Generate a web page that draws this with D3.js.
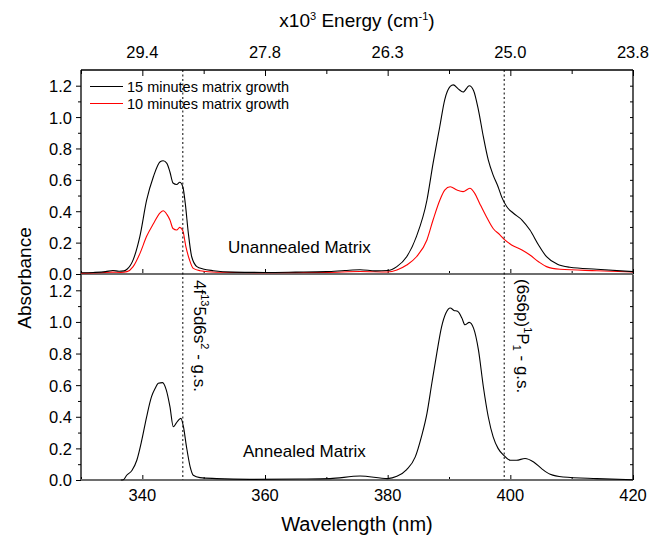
<!DOCTYPE html>
<html><head><meta charset="utf-8">
<script src="https://cdn.jsdelivr.net/npm/d3@7"></script>
<style>body{margin:0;background:#fff}svg{display:block;font-family:"Liberation Sans",Arial,sans-serif}</style>
</head><body><svg id="c" width="651" height="535"></svg>
<script>
// ---- data ----
const wl15 = [330,332,334,335.2,336.2,337,337.5,338.5,339.6,340.7,341.8,342.9,343.4,344,344.5,345,345.6,346.1,346.6,347,347.5,348.05,348.9,349.9,351.6,354.8,360,365,370,373,375.5,378,380,381.5,383.1,384.7,386.4,387.4,388.5,389.3,390.2,390.7,391.5,392.3,393.3,394,394.8,395.6,396.4,397.2,398,398.6,399.4,400.5,401.9,403.2,404.6,405.9,407.6,409.7,414.1,420];
const abs15 = [0.008,0.01,0.015,0.022,0.018,0.02,0.03,0.09,0.24,0.47,0.62,0.715,0.722,0.705,0.65,0.58,0.57,0.585,0.556,0.45,0.26,0.11,0.047,0.032,0.021,0.012,0.01,0.012,0.015,0.022,0.027,0.02,0.022,0.047,0.11,0.24,0.47,0.705,0.94,1.11,1.195,1.205,1.18,1.16,1.2,1.17,1.045,0.875,0.727,0.63,0.556,0.49,0.43,0.387,0.344,0.28,0.185,0.11,0.064,0.043,0.03,0.015];
const wl10 = [330,333,335,336.5,337.5,338.5,339.6,340.7,341.8,342.9,343.4,344,344.5,345,345.6,346.1,346.6,347.1,347.7,348.3,349.4,352.1,360,370,375.5,380,381.5,383.1,384.7,386.4,387.4,388.5,389.3,390.2,391.3,392.3,393.4,394.2,395,396.1,397.2,398.3,399.1,400.2,401.9,403.2,404.6,405.9,408.1,414.1,420];
const abs10 = [0.005,0.008,0.012,0.01,0.015,0.047,0.13,0.24,0.32,0.39,0.403,0.38,0.344,0.29,0.28,0.297,0.276,0.174,0.089,0.036,0.021,0.011,0.008,0.01,0.016,0.013,0.025,0.057,0.11,0.217,0.344,0.47,0.535,0.556,0.535,0.525,0.546,0.514,0.45,0.365,0.29,0.25,0.217,0.185,0.153,0.121,0.078,0.047,0.03,0.021,0.013];
const wlAnn = [336.5,336.9,337.45,338.3,339.1,339.9,340.7,341.5,342.1,342.6,343.3,343.9,344.5,345.05,345.5,345.9,346.3,346.7,347.2,347.8,348.3,349.4,352.1,357.5,365.6,370.6,375.5,380,381.5,383.1,384.5,385.5,386.4,387.2,388,388.8,389.5,390.2,390.8,391.4,392.1,392.6,393.3,394,394.8,395.6,396.4,397.2,398,398.9,400,401,402.4,403.8,405.1,406.5,408.6,414.1,420];
const absAnn = [0,0.002,0.03,0.06,0.125,0.25,0.4,0.527,0.58,0.612,0.616,0.57,0.464,0.337,0.358,0.379,0.39,0.337,0.21,0.083,0.03,0.015,0.009,0.004,0.006,0.009,0.025,0.009,0.023,0.066,0.146,0.273,0.42,0.612,0.8,0.97,1.056,1.088,1.073,1.067,1.025,0.982,0.997,0.961,0.823,0.59,0.4,0.273,0.2,0.157,0.125,0.125,0.136,0.114,0.072,0.036,0.019,0.009,0.002];
const xTicks = [340,360,380,400,420];
const xMinor = [330,350,370,390,410];
const topTickLabels = ["29.4","27.8","26.3","25.0","23.8"];
const yTicks = [0,0.2,0.4,0.6,0.8,1.0,1.2];
const yMinor = [0.1,0.3,0.5,0.7,0.9,1.1,1.3];
const transitions = [346.6, 399.0];
const legendNames = ["15 minutes matrix growth","10 minutes matrix growth"];
const colors = ["#000000","#ff0000"];

// ---- layout ----
const svg = d3.select("#c");
const L=81, R=633, T=70, MID=274, B=480;
const x = d3.scaleLinear().domain([330,420]).range([L,R]);
const yTop = d3.scaleLinear().domain([0,1.3]).range([MID,T]);
const yBot = d3.scaleLinear().domain([0,1.3]).range([B,MID+0.5]);
const FS = 16.5;

function panel(y, top){
  const g = svg.append("g");
  // left axis: ticks outside
  const la = g.append("g").attr("transform",`translate(${L},0)`)
    .call(d3.axisLeft(y).tickValues(yTicks).tickSize(5).tickFormat(d3.format(".1f")));
  la.select(".domain").remove();
  la.selectAll("text").attr("font-size",FS).attr("font-family","Liberation Sans, Arial").attr("fill","#000").attr("dx",-1).attr("dy","0.36em");
  la.selectAll("line").attr("stroke","#000");
  g.append("g").attr("transform",`translate(${L},0)`)
    .call(d3.axisLeft(y).tickValues(yMinor.filter(v=>v<1.3)).tickSize(3).tickFormat(""))
    .select(".domain").remove();
  // right axis: minor ticks inside
  const ra = g.append("g").attr("transform",`translate(${R},0)`)
    .call(d3.axisLeft(y).tickValues(yTicks.concat(yMinor.filter(v=>v<1.3))).tickSize(3).tickFormat(""));
  ra.select(".domain").remove();
  // bottom ticks inward
  const ba = g.append("g").attr("transform",`translate(0,${y(0)})`);
  ba.call(d3.axisTop(x).tickValues(xTicks).tickSize(5).tickFormat("")).select(".domain").remove();
  const bm = g.append("g").attr("transform",`translate(0,${y(0)})`);
  bm.call(d3.axisTop(x).tickValues(xMinor).tickSize(3).tickFormat("")).select(".domain").remove();
  // frame
  g.append("line").attr("x1",L).attr("x2",L).attr("y1",y.range()[1]).attr("y2",y(0)).attr("stroke","#000").attr("stroke-width",1.3);
  g.append("line").attr("x1",R).attr("x2",R).attr("y1",y.range()[1]).attr("y2",y(0)).attr("stroke","#000").attr("stroke-width",1.3);
  g.append("line").attr("x1",L).attr("x2",R).attr("y1",y(0)).attr("y2",y(0)).attr("stroke","#6e6e6e").attr("stroke-width",1.8);
  return g;
}
const gTop = panel(yTop,true);
const gBot = panel(yBot,false);

// top frame line and top axis
svg.append("line").attr("x1",L).attr("x2",R).attr("y1",T).attr("y2",T).attr("stroke","#000").attr("stroke-width",1.3);
const ta = svg.append("g").attr("transform",`translate(0,${T})`)
  .call(d3.axisBottom(x).tickValues(xTicks).tickSize(6).tickFormat(""));
ta.select(".domain").remove();
svg.append("g").attr("transform",`translate(0,${T})`)
  .call(d3.axisBottom(x).tickValues(xMinor).tickSize(4).tickFormat("")).select(".domain").remove();
svg.selectAll(".tick line").attr("stroke","#000");
svg.append("g").selectAll("text").data(xTicks).join("text")
  .attr("x",d=>x(d)).attr("y",58).attr("text-anchor","middle").attr("font-size",FS)
  .text((d,i)=>topTickLabels[i]);
// bottom tick labels
svg.append("g").selectAll("text").data(xTicks).join("text")
  .attr("x",d=>x(d)).attr("y",501).attr("text-anchor","middle").attr("font-size",FS)
  .text(d=>d);

// transitions dotted lines
svg.append("g").selectAll("line").data(transitions).join("line")
  .attr("x1",d=>x(d)).attr("x2",d=>x(d)).attr("y1",T).attr("y2",B)
  .attr("stroke","#000").attr("stroke-width",1).attr("stroke-dasharray","2,2.5");

// curves
const mk = (y)=>d3.line().x(d=>x(d[0])).y(d=>y(d[1])).curve(d3.curveMonotoneX);
const clipTop = svg.append("clipPath").attr("id","ct").append("rect").attr("x",L).attr("y",T).attr("width",R-L).attr("height",MID-T);
gTop.append("path").datum(d3.zip(wl10,abs10)).attr("d",mk(yTop)).attr("fill","none").attr("stroke",colors[1]).attr("stroke-width",1.1);
gTop.append("path").datum(d3.zip(wl15,abs15)).attr("d",mk(yTop)).attr("fill","none").attr("stroke",colors[0]).attr("stroke-width",1.1);
gBot.append("path").datum(d3.zip(wlAnn,absAnn)).attr("d",mk(yBot)).attr("fill","none").attr("stroke","#000").attr("stroke-width",1.1);

// legend
const lg = svg.append("g");
legendNames.forEach((n,i)=>{
  const yy = 86.5 + i*17;
  lg.append("line").attr("x1",90).attr("x2",123).attr("y1",yy).attr("y2",yy).attr("stroke",colors[i]).attr("stroke-width",1.1);
  lg.append("text").attr("x",127).attr("y",yy+5).attr("font-size",14.5).text(n);
});

// panel labels
svg.append("text").attr("x",228).attr("y",252.5).attr("font-size",17).text("Unannealed Matrix");
svg.append("text").attr("x",243).attr("y",456.5).attr("font-size",17).text("Annealed Matrix");

// axis titles
svg.append("text").attr("x",357).attr("y",531).attr("text-anchor","middle").attr("font-size",20).text("Wavelength (nm)");
svg.append("text").attr("transform","translate(31,278) rotate(-90)").attr("text-anchor","middle").attr("font-size",19).text("Absorbance");
const tt = svg.append("text").attr("x",357).attr("y",27).attr("text-anchor","middle").attr("font-size",19);
tt.append("tspan").text("x10");
tt.append("tspan").attr("font-size",11).attr("dy",-7).text("3");
tt.append("tspan").attr("dy",7).text(" Energy (cm");
tt.append("tspan").attr("font-size",11).attr("dy",-7).text("-1");
tt.append("tspan").attr("dy",7).text(")");

// rotated annotations
const a1 = svg.append("text").attr("transform",`translate(194,280) rotate(90)`).attr("font-size",17);
a1.append("tspan").text("4f");
a1.append("tspan").attr("font-size",11).attr("dy",-7).text("13");
a1.append("tspan").attr("dy",7).text("5d6s");
a1.append("tspan").attr("font-size",11).attr("dy",-7).text("2");
a1.append("tspan").attr("dy",7).text(" - g.s.");
const a2 = svg.append("text").attr("transform",`translate(517,279) rotate(90)`).attr("font-size",17);
a2.append("tspan").text("(6s6p)");
a2.append("tspan").attr("font-size",11).attr("dy",-7).text("1");
a2.append("tspan").attr("dy",7).text("P");
a2.append("tspan").attr("font-size",11).attr("dy",4).text("1");
a2.append("tspan").attr("dy",-4).text(" - g.s.");
</script></body></html>
